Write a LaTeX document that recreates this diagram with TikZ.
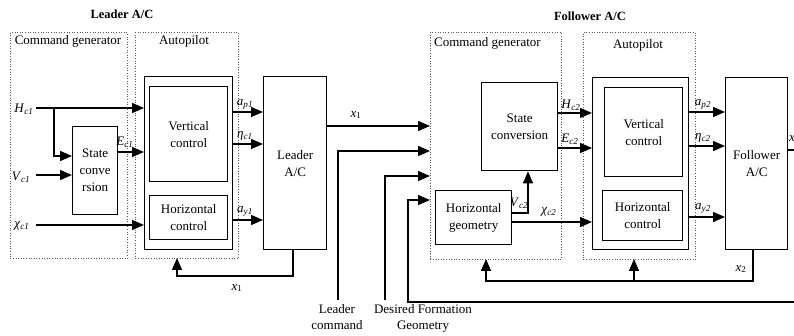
\documentclass[tikz,border=0pt]{standalone}
\usepackage{fontspec}
\setmainfont{Liberation Serif}
\usetikzlibrary{arrows.meta}
\newcommand{\myvar}[2]{\textit{#1}\textsubscript{\textit{#2}}}
\begin{document}
\begin{tikzpicture}[x=1pt,y=-1pt,
  blk/.style={draw, line width=1.4pt, inner sep=0pt, align=center, anchor=north west, font=\fontsize{13}{17}\selectfont},
  dotbox/.style={draw=black!65, line width=0.9pt, dash pattern=on 0.9pt off 1.7pt, anchor=north west, inner sep=0pt},
  arr/.style={line width=1.4pt, -{Triangle[length=12pt,width=10pt]}},
  ln/.style={line width=1.4pt},
  lab/.style={font=\fontsize{13}{15}\selectfont, inner sep=0pt},
  hdr/.style={font=\fontsize{13}{15}\selectfont, inner sep=0pt},
  ttl/.style={font=\bfseries\fontsize{12.5}{15}\selectfont, inner sep=0pt},
  captxt/.style={font=\fontsize{13}{16.5}\selectfont, inner sep=0pt, align=center, anchor=north}
]
\useasboundingbox (0,0) rectangle (794,336);

% titles
\node[ttl] (tl) at (122,14) {Leader A/C};
\node[ttl] (tf) at (590,16) {Follower A/C};

% ---------- Leader ----------
\node[dotbox, minimum width=117, minimum height=226] (lcg) at (10,32) {};
\node[hdr] (lcgt) at (68,41) {Command generator};
\node[dotbox, minimum width=103, minimum height=226] (lap) at (135,32) {};
\node[hdr] (lapt) at (184,41) {Autopilot};

\node[blk, minimum width=88, minimum height=173] (lout) at (144,76) {};
\node[blk, minimum width=78, minimum height=95] (lvc) at (149,86) {Vertical\\control};
\node[blk, minimum width=78, minimum height=44] (lhc) at (149,195) {Horizontal\\control};
\node[blk, minimum width=45, minimum height=88] (lsc) at (72,126) {State\\conve\\rsion};
\node[blk, minimum width=63, minimum height=173] (lac) at (263,76) {Leader\\A/C};

% inputs
\coordinate (hin) at (36,108);
\coordinate (hbr) at (54,108);
\coordinate (vin) at (36,175);
\coordinate (xin) at (36,225);
\coordinate (scin) at (72,156);
\node[lab] (hlab) at (24,109) {\myvar{H}{c1}};
\node[lab] (vlab) at (21,177) {\myvar{V}{c1}};
\node[lab] (xlab) at (22,226) {\myvar{χ}{c1}};
\draw[arr] (hin) -- (hin -| lout.west);
\draw[arr] (hbr) |- (scin);
\draw[arr] (vin) -- (vin -| lsc.west);
\draw[arr] (xin) -- (xin -| lout.west);
\coordinate (eout) at (117,152);
\draw[arr] (eout) -- (eout -| lout.west);
\node[lab] (elab) at (125,142) {\myvar{E}{c1}};

% autopilot outputs
\coordinate (ap1) at (232,112);
\coordinate (et1) at (232,144);
\coordinate (ay1) at (232,220);
\draw[arr] (ap1) -- (ap1 -| lac.west);
\draw[arr] (et1) -- (et1 -| lac.west);
\draw[arr] (ay1) -- (ay1 -| lac.west);
\node[lab] (ap1l) at (245,104) {\myvar{a}{p1}};
\node[lab] (et1l) at (245,136) {\myvar{η}{c1}};
\node[lab] (ay1l) at (245,211) {\myvar{a}{y1}};

% leader feedback
\coordinate (lfb) at (293,249);
\coordinate (lfbc) at (177,276);
\coordinate (lfbe) at (177,258);
\draw[arr] (lfb) |- (lfbc) -- (lfbe);
\node[lab] (lfbl) at (237,288) {\textit{x}\textsubscript{1}};

% ---------- Follower ----------
\node[dotbox, minimum width=131, minimum height=227] (fcg) at (430,32) {};
\node[hdr, anchor=west] (fcgt) at (434,43) {Command generator};
\node[dotbox, minimum width=112, minimum height=227] (fap) at (583,32) {};
\node[hdr] (fapt) at (638,45) {Autopilot};

\node[blk, minimum width=76, minimum height=88] (fsc) at (481,82) {State\\conversion};
\node[blk, minimum width=76, minimum height=54] (fhg) at (435,190) {Horizontal\\geometry};
\node[blk, minimum width=96, minimum height=172] (fout) at (592,77) {};
\node[blk, minimum width=78, minimum height=89] (fvc) at (604,87) {Vertical\\control};
\node[blk, minimum width=80, minimum height=50] (fhc) at (602,190) {Horizontal\\control};
\node[blk, minimum width=62, minimum height=172] (fac) at (725,77) {Follower\\A/C};

% leader output to follower
\coordinate (x1o) at (326,126);
\draw[arr] (x1o) -- (x1o -| fcg.west);
\node[lab] (x1ol) at (356,115) {\textit{x}\textsubscript{1}};

% external inputs
\coordinate (lcb) at (338,300);
\coordinate (lci) at (430,151);
\draw[arr] (lcb) |- (lci);
\coordinate (dfb) at (385,300);
\coordinate (dfi) at (430,176);
\draw[arr] (dfb) |- (dfi);
\coordinate (bre) at (794,302);
\coordinate (brc) at (408,302);
\coordinate (bri) at (430,200);
\draw[arr] (bre) -- (brc) |- (bri);
\node[captxt] (lcap) at (337,304) {Leader\\command};
\node[captxt] (dcap) at (423,304) {Desired Formation\\Geometry};

% command generator internals
\coordinate (vc2o) at (511,213);
\coordinate (vc2c) at (528,213);
\draw[arr] (vc2o) -- (vc2c) -- (vc2c |- fsc.south);
\node[lab] (vc2l) at (519,203) {\myvar{V}{c2}};
\coordinate (chi2) at (511,222);
\draw[arr] (chi2) -- (chi2 -| fout.west);
\node[lab] (chi2l) at (549,212) {\myvar{χ}{c2}};
\coordinate (h2) at (557,113);
\coordinate (e2) at (557,148);
\draw[arr] (h2) -- (h2 -| fout.west);
\draw[arr] (e2) -- (e2 -| fout.west);
\node[lab] (h2l) at (571,105) {\myvar{H}{c2}};
\node[lab] (e2l) at (570,139) {\myvar{E}{c2}};

% follower autopilot outputs
\coordinate (ap2) at (688,112);
\coordinate (et2) at (688,146);
\coordinate (ay2) at (688,217);
\draw[arr] (ap2) -- (ap2 -| fac.west);
\draw[arr] (et2) -- (et2 -| fac.west);
\draw[arr] (ay2) -- (ay2 -| fac.west);
\node[lab] (ap2l) at (703,104) {\myvar{a}{p2}};
\node[lab] (et2l) at (703,138) {\myvar{η}{c2}};
\node[lab] (ay2l) at (703,208) {\myvar{a}{y2}};

% follower output
\coordinate (fo) at (787,150);
\coordinate (foe) at (794,150);
\draw[ln] (fo) -- (foe);
\node[lab, anchor=west] (fol) at (789,139) {\textit{x}\textsubscript{2}};

% follower feedback
\coordinate (ffb) at (753,249);
\coordinate (ffbc) at (486,281);
\coordinate (ffbe) at (486,259);
\coordinate (ffbm) at (634,281);
\coordinate (ffbme) at (634,259);
\draw[arr] (ffb) |- (ffbc) -- (ffbe);
\draw[arr] (ffbm) -- (ffbme);
\node[lab] (ffbl) at (741,269) {\textit{x}\textsubscript{2}};
\end{tikzpicture}
\end{document}
